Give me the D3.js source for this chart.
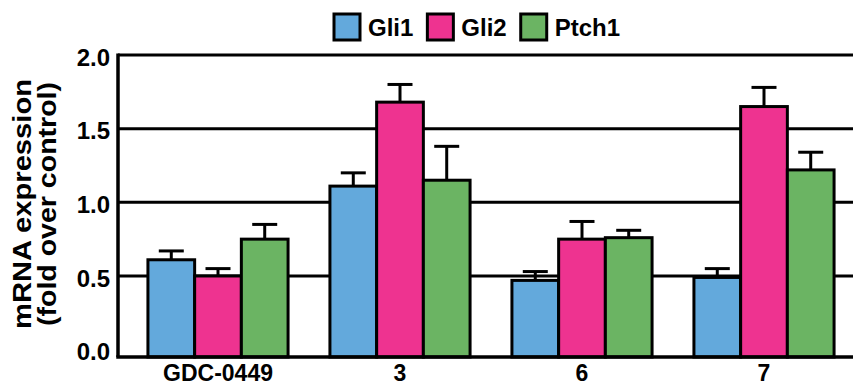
<!DOCTYPE html>
<html>
<head>
<meta charset="utf-8">
<script src="https://cdn.jsdelivr.net/npm/d3@7"></script>
<style>
  body { margin: 0; background: #fff; }
  text { font-family: "Liberation Sans", Arial, sans-serif; font-weight: bold; fill: #000; }
</style>
</head>
<body>
<div id="chart"></div>
<script>
// chart data
const groups = ["GDC-0449", "3", "6", "7"];
const genes = ["Gli1", "Gli2", "Ptch1"];
const gli1 = [0.61, 1.11, 0.47, 0.49];
const gli2 = [0.50, 1.68, 0.75, 1.65];
const ptch1 = [0.75, 1.15, 0.76, 1.22];
const gli1Err = [0.06, 0.09, 0.06, 0.06];
const gli2Err = [0.05, 0.12, 0.12, 0.13];
const ptch1Err = [0.10, 0.23, 0.05, 0.12];
const yTicks = [0.0, 0.5, 1.0, 1.5, 2.0];
const colors = ["#63a9dc", "#ee3390", "#6bb463"];

const width = 853, height = 385;

// build flat table for the bars
const series = [gli1, gli2, ptch1];
const errors = [gli1Err, gli2Err, ptch1Err];
const rows = [];
groups.forEach((g, i) => {
    genes.forEach((gene, j) => {
        rows.push({ group: g, gene: gene, value: series[j][i], err: errors[j][i] });
    });
});

const svg = d3.select("#chart").append("svg")
    .attr("width", width)
    .attr("height", height);

// scales
const x = d3.scaleBand().domain(groups).range([127, 855]).paddingInner(0.23).paddingOuter(0.115);
const xInner = d3.scaleBand().domain(genes).range([0, x.bandwidth()]);
const y = d3.scaleLinear().domain([-0.05, 2.0]).range([357, 55]);
const color = d3.scaleOrdinal().domain(genes).range(colors);

const left = 118, right = 853;

// gridlines
svg.append("g").selectAll("line")
    .data(yTicks.filter(d => d > 0))
    .join("line")
    .attr("x1", left).attr("x2", right)
    .attr("y1", d => y(d)).attr("y2", d => y(d))
    .attr("stroke", "#000").attr("stroke-width", 3);

// y axis with labels only
const yAxis = svg.append("g")
    .attr("transform", `translate(${left},0)`)
    .call(d3.axisLeft(y).tickValues(yTicks).tickFormat(d3.format(".1f")).tickSize(0).tickPadding(8));
yAxis.select(".domain").remove();
yAxis.selectAll("text")
    .attr("font-size", "24px")
    .attr("font-family", "Liberation Sans, Arial, sans-serif")
    .attr("font-weight", "bold")
    .attr("fill", "#000")
    .attr("dy", "0.42em");

svg.append("line")
    .attr("x1", left).attr("x2", left)
    .attr("y1", y(2.0) - 1.5).attr("y2", y.range()[0])
    .attr("stroke", "#000").attr("stroke-width", 3.5);

// error bars (upper only)
const barGroups = svg.append("g").selectAll("g")
    .data(rows)
    .join("g")
    .attr("transform", d => `translate(${x(d.group) + xInner(d.gene)},0)`);

barGroups.append("line")
    .attr("x1", xInner.bandwidth() / 2).attr("x2", xInner.bandwidth() / 2)
    .attr("y1", d => y(d.value)).attr("y2", d => y(d.value + d.err))
    .attr("stroke", "#000").attr("stroke-width", 3);

barGroups.append("line")
    .attr("x1", xInner.bandwidth() / 2 - 12.5).attr("x2", xInner.bandwidth() / 2 + 12.5)
    .attr("y1", d => y(d.value + d.err)).attr("y2", d => y(d.value + d.err))
    .attr("stroke", "#000").attr("stroke-width", 3);

// bars
barGroups.append("rect")
    .attr("x", 0)
    .attr("y", d => y(d.value))
    .attr("width", xInner.bandwidth())
    .attr("height", d => y.range()[0] - y(d.value))
    .attr("fill", d => color(d.gene))
    .attr("stroke", "#000")
    .attr("stroke-width", 3);

// x axis
const xAxis = svg.append("g")
    .attr("transform", `translate(0,${y.range()[0]})`)
    .call(d3.axisBottom(x).tickSize(0).tickPadding(8));
xAxis.select(".domain").remove();
xAxis.selectAll("text")
    .attr("font-size", "23px")
    .attr("font-family", "Liberation Sans, Arial, sans-serif")
    .attr("font-weight", "bold")
    .attr("fill", "#000");

svg.append("line")
    .attr("x1", left - 1.75).attr("x2", right)
    .attr("y1", y.range()[0]).attr("y2", y.range()[0])
    .attr("stroke", "#000").attr("stroke-width", 3.5);

// y axis title
const yTitle = svg.append("text")
    .attr("transform", "translate(31,204) rotate(-90)")
    .attr("text-anchor", "middle")
    .attr("font-size", "25px");
yTitle.append("tspan").attr("x", 0).attr("y", 0)
    .attr("textLength", 250).attr("lengthAdjust", "spacingAndGlyphs")
    .text("mRNA expression");
yTitle.append("tspan").attr("x", 0).attr("y", 25)
    .attr("textLength", 244).attr("lengthAdjust", "spacingAndGlyphs")
    .text("(fold over control)");

// legend
const legend = svg.append("g");
let lx = 334;
genes.forEach(gene => {
    legend.append("rect")
        .attr("x", lx).attr("y", 14)
        .attr("width", 26).attr("height", 26)
        .attr("fill", color(gene))
        .attr("stroke", "#000").attr("stroke-width", 3);
    const t = legend.append("text")
        .attr("x", lx + 34).attr("y", 36)
        .attr("font-size", "24px")
        .text(gene);
    lx += 34 + t.node().getComputedTextLength() + 14;
});
</script>
</body>
</html>
